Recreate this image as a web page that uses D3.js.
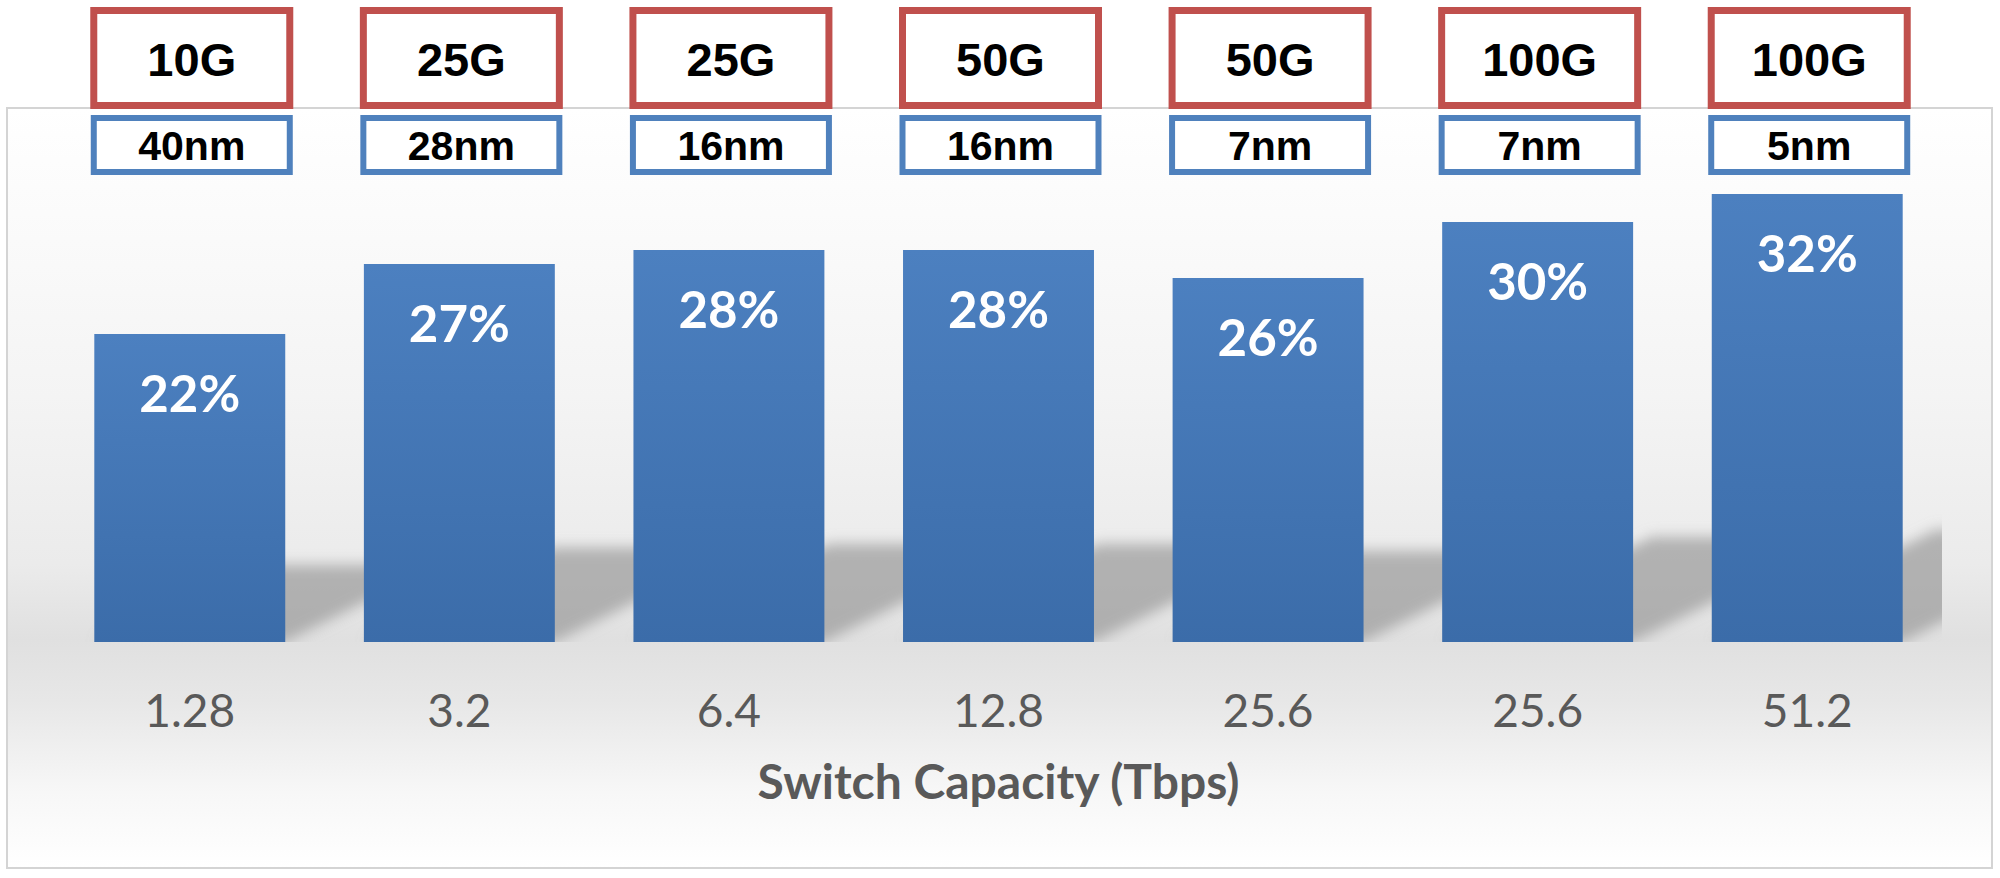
<!DOCTYPE html>
<html lang="en">
<head>
    <meta charset="UTF-8">
    <title>Switch Capacity</title>
    <script src="https://d3js.org/d3.v7.min.js"></script>
    <style>
        body {
            margin: 0;
            padding: 0;
            background-color: #fff;
        }
        svg { display: block; }
        .tick-label { font-family: Lato, "Open Sans", sans-serif; font-size: 46px; fill: #595959; }
        .axis-title { font-family: Lato, "Open Sans", sans-serif; font-size: 48px; font-weight: bold; fill: #595959; }
        .pct { font-family: Lato, "Open Sans", sans-serif; font-size: 51px; font-weight: bold; fill: #fff; }
        .box-text { font-family: "Liberation Sans", Arial, sans-serif; font-weight: bold; fill: #000; }
    </style>
</head>
<body>
    <svg id="chart" width="2000" height="878"></svg>

    <script>
        // data
        const capacity = ["1.28", "3.2", "6.4", "12.8", "25.6", "25.6", "51.2"];
        const share = [22, 27, 28, 28, 26, 30, 32];
        const serdes = ["10G", "25G", "25G", "50G", "50G", "100G", "100G"];
        const node = ["40nm", "28nm", "16nm", "16nm", "7nm", "7nm", "5nm"];
        const xTitle = "Switch Capacity (Tbps)";

        const svg = d3.select("#chart");
        const idx = d3.range(capacity.length);

        const panel = { x: 7, y: 108, w: 1985, h: 760 };
        const base = 642;

        const x = d3.scaleBand()
            .domain(idx)
            .range([55, 1942])
            .paddingInner(0.2917)
            .paddingOuter(0.1458);

        const y = d3.scaleLinear()
            .domain([0, 32])
            .range([base, 194]);

        const defs = svg.append("defs");

        const bg = defs.append("linearGradient")
            .attr("id", "bg").attr("x1", 0).attr("y1", 0).attr("x2", 0).attr("y2", 1);
        [[0, "#ffffff"], [0.38, "#f4f4f4"], [0.6, "#ebebeb"], [0.7, "#e0e0e0"],
         [0.78, "#e7e7e7"], [0.9, "#f7f7f7"], [1, "#ffffff"]]
            .forEach(s => bg.append("stop").attr("offset", s[0]).attr("stop-color", s[1]));

        const barGrad = defs.append("linearGradient")
            .attr("id", "barGrad").attr("x1", 0).attr("y1", 0).attr("x2", 0).attr("y2", 1);
        barGrad.append("stop").attr("offset", 0).attr("stop-color", "#4c80c0");
        barGrad.append("stop").attr("offset", 1).attr("stop-color", "#3b6ca9");

        defs.append("filter")
            .attr("id", "blur")
            .attr("x", "-30%").attr("y", "-60%").attr("width", "160%").attr("height", "220%")
            .append("feGaussianBlur").attr("stdDeviation", "6 7");

        // shadows are clipped to the plot area, like the original
        defs.append("clipPath").attr("id", "plotClip")
            .append("rect")
            .attr("x", panel.x).attr("y", panel.y)
            .attr("width", x.range()[1] - panel.x).attr("height", base - panel.y);

        // plot panel
        svg.append("rect")
            .attr("x", panel.x).attr("y", panel.y)
            .attr("width", panel.w).attr("height", panel.h)
            .attr("fill", "url(#bg)")
            .attr("stroke", "#d4d4d4")
            .attr("stroke-width", 2);

        // perspective shadows: a quarter of the bar height, leaning up and right
        svg.append("g").attr("clip-path", "url(#plotClip)")
            .append("g").attr("filter", "url(#blur)")
            .selectAll("polygon")
            .data(idx)
            .enter().append("polygon")
            .attr("fill", "#999")
            .attr("opacity", 0.7)
            .attr("points", i => {
                const x0 = x(i), x1 = x(i) + x.bandwidth();
                const sh = (base - y(share[i])) * 0.25;
                return [[x0, base], [x1, base], [x1 + 2 * sh, base - sh],
                        [x0 + 2 * sh, base - sh]].join(" ");
            });

        // bars
        svg.selectAll(".bar")
            .data(idx)
            .enter().append("rect")
            .attr("class", "bar")
            .attr("x", i => x(i))
            .attr("y", i => y(share[i]))
            .attr("width", x.bandwidth())
            .attr("height", i => base - y(share[i]))
            .attr("fill", "url(#barGrad)");

        svg.selectAll(".pct")
            .data(idx)
            .enter().append("text")
            .attr("class", "pct")
            .attr("x", i => x(i) + x.bandwidth() / 2)
            .attr("y", i => y(share[i]) + 78)
            .attr("text-anchor", "middle")
            .text(i => share[i] + "%");

        // x axis
        const axis = svg.append("g")
            .attr("transform", `translate(0,${base})`)
            .call(d3.axisBottom(x).tickSize(0).tickFormat(i => capacity[i]));
        axis.select(".domain").remove();
        axis.selectAll("text")
            .attr("class", "tick-label")
            .attr("y", 85)
            .attr("dy", 0)
            .attr("fill", null);
        axis.attr("font-size", null).attr("font-family", null);

        svg.append("text")
            .attr("class", "axis-title")
            .attr("x", (x.range()[0] + x.range()[1]) / 2)
            .attr("y", 799)
            .attr("text-anchor", "middle")
            .text(xTitle);

        // labels above the bars: SerDes speed (red) and process node (blue)
        const boxW = 196;
        const red = svg.append("g").selectAll("g")
            .data(idx).enter().append("g")
            .attr("transform", i => `translate(${x(i) + x.bandwidth() / 2 + 2},0)`);
        red.append("rect")
            .attr("x", -boxW / 2).attr("y", 10.5)
            .attr("width", boxW).attr("height", 95)
            .attr("fill", "#fff")
            .attr("stroke", "#c0504d")
            .attr("stroke-width", 7);
        red.append("text")
            .attr("class", "box-text")
            .attr("y", 76)
            .attr("text-anchor", "middle")
            .style("font-size", "47px")
            .text(i => serdes[i]);

        const blue = svg.append("g").selectAll("g")
            .data(idx).enter().append("g")
            .attr("transform", i => `translate(${x(i) + x.bandwidth() / 2 + 2},0)`);
        blue.append("rect")
            .attr("x", -boxW / 2).attr("y", 118)
            .attr("width", boxW).attr("height", 54)
            .attr("fill", "#fff")
            .attr("stroke", "#4f81bd")
            .attr("stroke-width", 6);
        blue.append("text")
            .attr("class", "box-text")
            .attr("y", 160)
            .attr("text-anchor", "middle")
            .style("font-size", "41px")
            .text(i => node[i]);
    </script>
</body>
</html>
